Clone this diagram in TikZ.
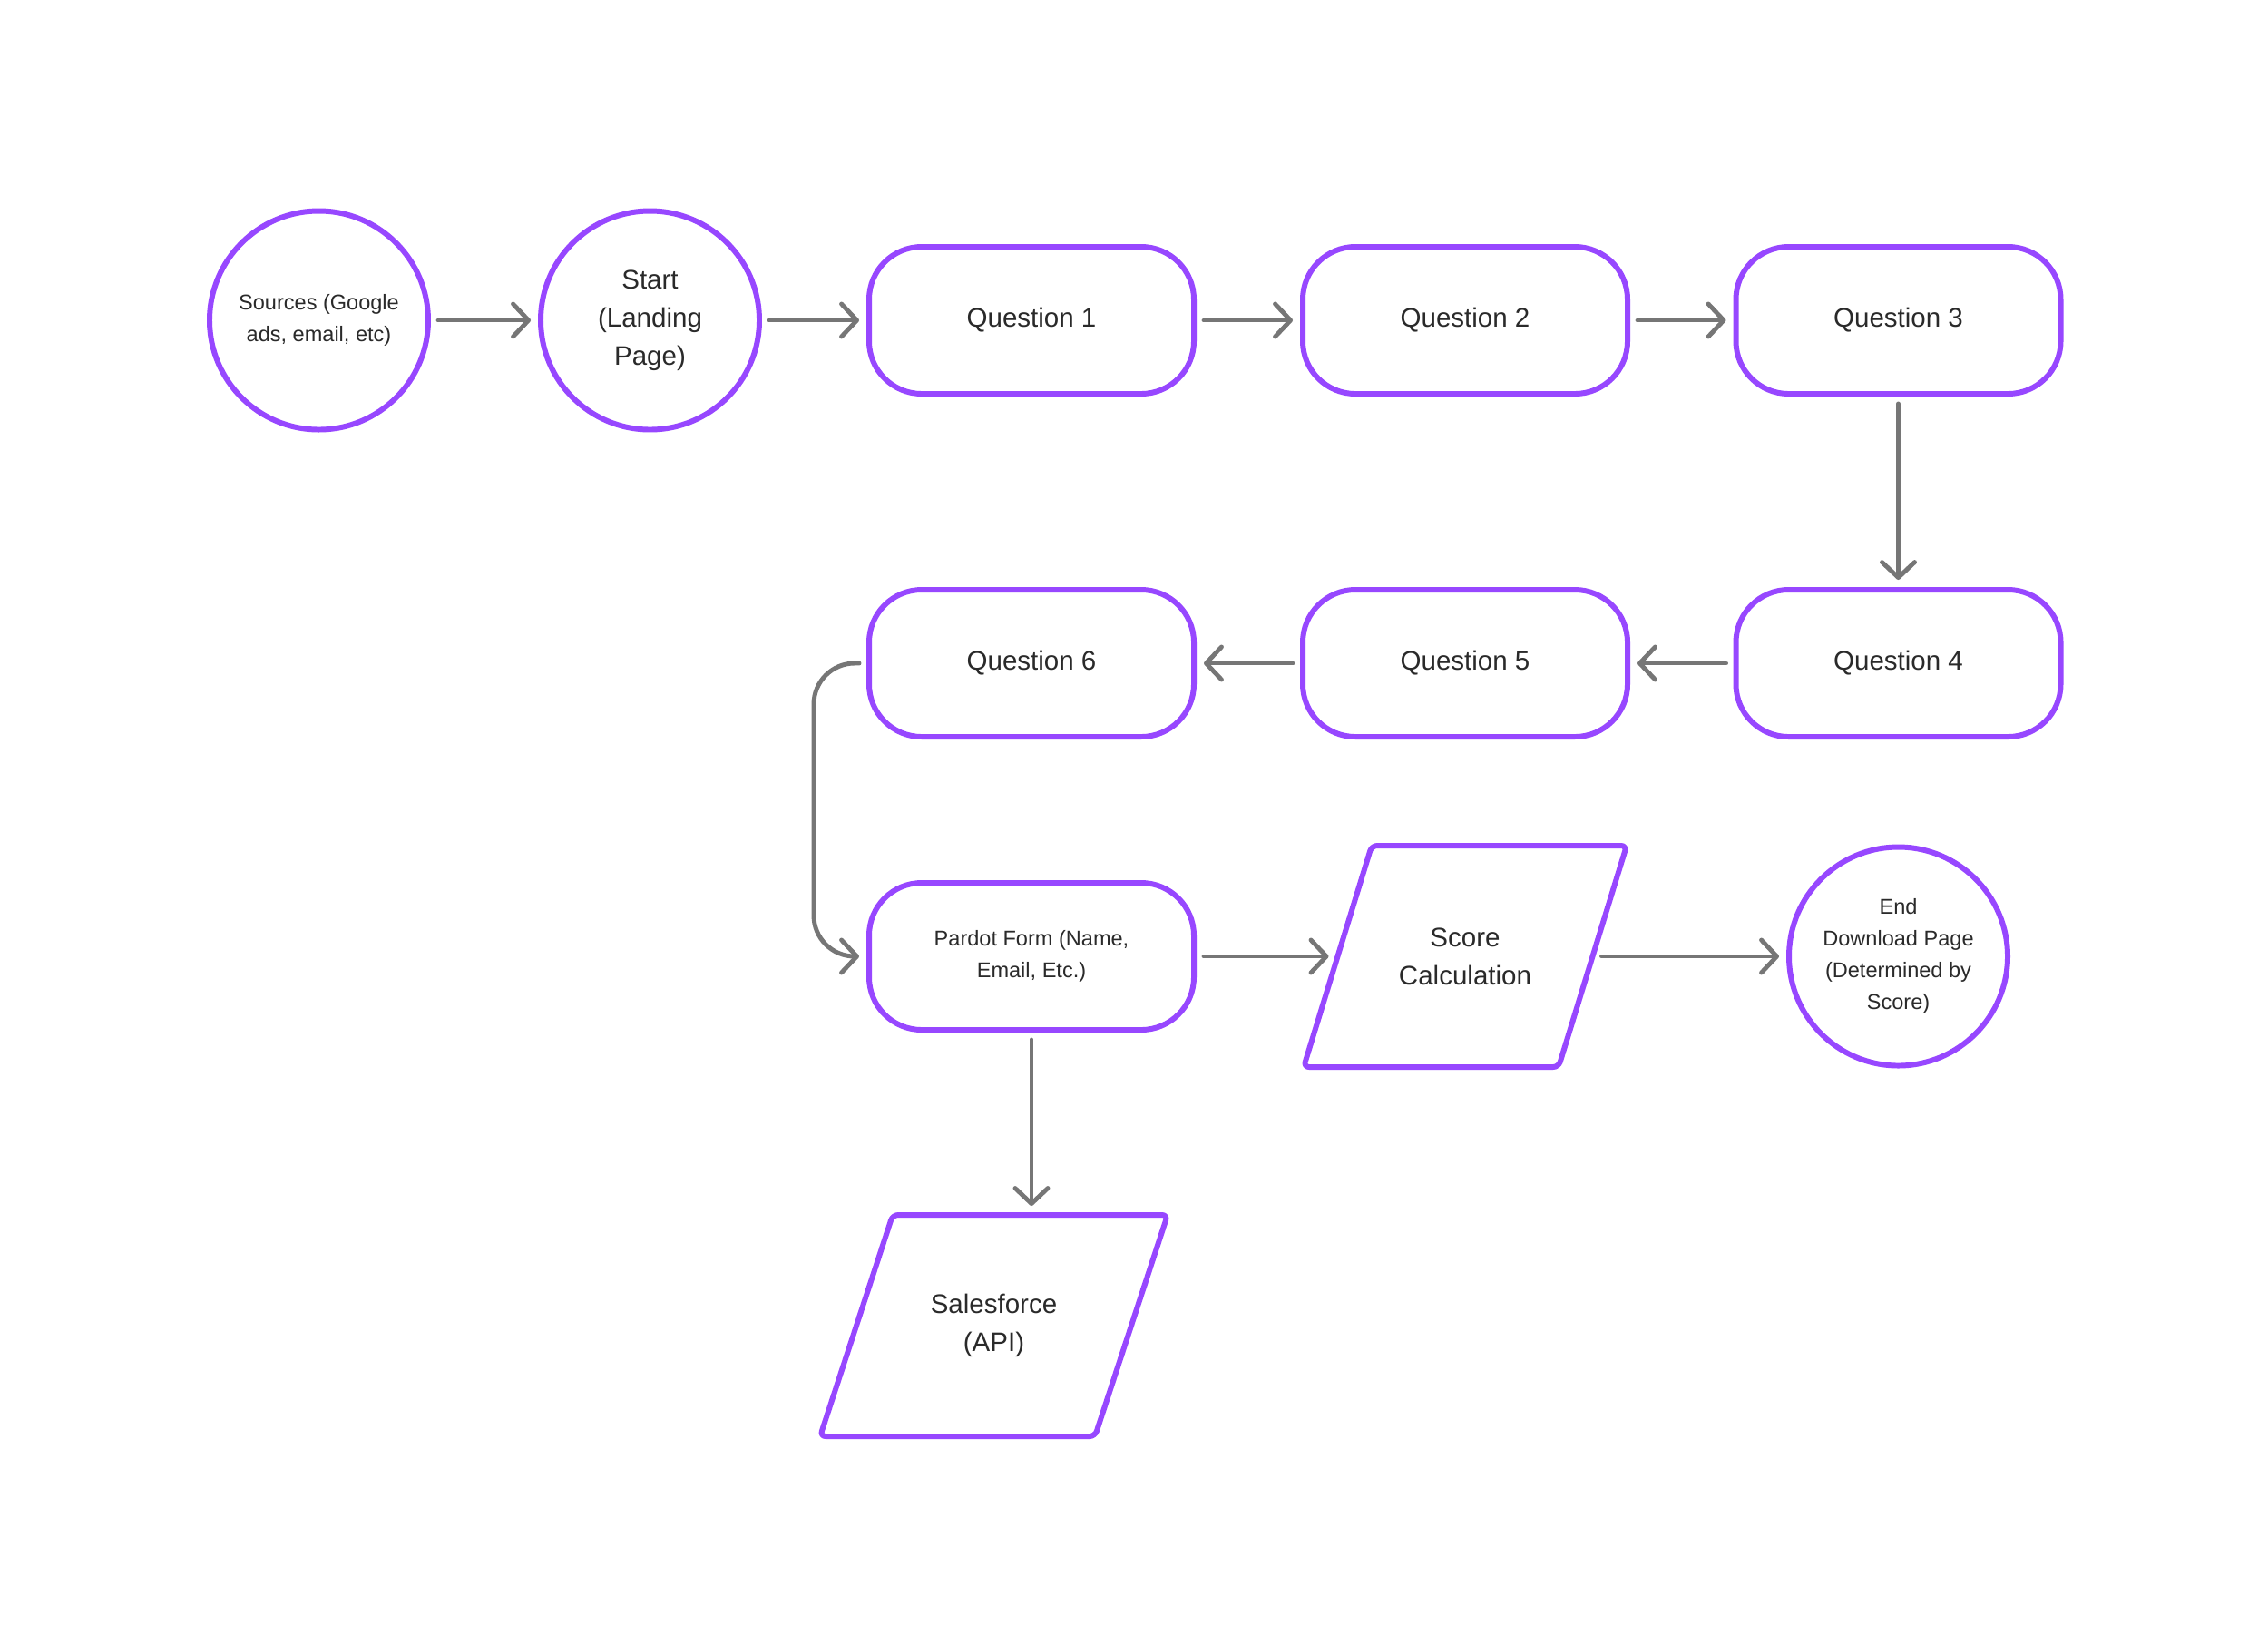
\documentclass[tikz,border=0pt]{standalone}
\usepackage{fontspec}
\setmainfont{Liberation Sans}
\usetikzlibrary{arrows.meta, calc}
\definecolor{violeta}{HTML}{9747FF}
\definecolor{gris}{HTML}{767676}
\definecolor{tinta}{HTML}{2A2A2A}
\tikzset{
  grande/.style={font=\fontsize{8.4}{11.9}\selectfont},
  chica/.style={font=\fontsize{6.7}{9.9}\selectfont},
  borde/.style={draw=violeta, line width=1.7pt, line join=round, rounded corners=0.06cm},
  caja/.style={borde, fill=white, text=tinta, align=center, inner sep=0pt},
  paso/.style={caja, rectangle, rounded corners=0.58cm, minimum width=3.58cm, minimum height=1.62cm},
  ronda/.style={caja, circle, minimum size=2.41cm},
  datos/.style={rectangle, text=tinta, align=center, inner sep=0pt, outer sep=0pt, minimum height=2.44cm},
  flecha/.style={->, draw=gris, line width=1.4pt, line cap=round, line join=round,
    shorten <=0.08cm, shorten >=0.08cm}
}
% marco inclinado alrededor de un nodo "datos" (#2 = medio desplazamiento)
\newcommand{\marcodatos}[2]{%
  \draw[borde] ($(#1.south west)+(-#2,0)$) -- ($(#1.north west)+(#2,0)$)
    -- ($(#1.north east)+(#2,0)$) -- ($(#1.south east)+(-#2,0)$) -- cycle;}
\begin{document}
\begin{tikzpicture}[>={Straight Barb[length=1.7mm, width=3.6mm, line cap=round, line join=round]}]
  \useasboundingbox[fill=white] (0,0) rectangle (25,-18.12);
  % fila superior
  \node[ronda, chica] (src) at (3.515,-3.53) {Sources (Google\\ads, email, etc)};
  \node[ronda, grande] (start) at (7.165,-3.53) {Start\\(Landing\\Page)};
  \node[paso, grande] (q1) at (11.37,-3.53) {Question 1};
  \node[paso, grande] (q2) at (16.15,-3.53) {Question 2};
  \node[paso, grande] (q3) at (20.925,-3.53) {Question 3};
  % fila del medio
  \node[paso, grande] (q4) at (20.925,-7.31) {Question 4};
  \node[paso, grande] (q5) at (16.15,-7.31) {Question 5};
  \node[paso, grande] (q6) at (11.37,-7.31) {Question 6};
  % fila inferior
  \node[paso, chica] (pardot) at (11.37,-10.54) {Pardot Form (Name,\\Email, Etc.)};
  \node[datos, grande, minimum width=2.81cm] (score) at (16.15,-10.54) {Score\\Calculation};
  \marcodatos{score}{0.375}
  \node[ronda, chica] (end) at (20.925,-10.54) {End\\Download Page\\(Determined by\\Score)};
  \node[datos, grande, minimum width=3.03cm] (sales) at (10.955,-14.61) {Salesforce\\(API)};
  \marcodatos{sales}{0.40}
  % conectores
  \draw[flecha] (src) -- (start);
  \draw[flecha] (start) -- (q1);
  \draw[flecha] (q1) -- (q2);
  \draw[flecha] (q2) -- (q3);
  \draw[flecha] (q3) -- (q4);
  \draw[flecha] (q4) -- (q5);
  \draw[flecha] (q5) -- (q6);
  \draw[flecha, rounded corners=0.45cm] (q6.west) -- ++(-0.58,0) |- (pardot.west);
  \draw[flecha, shorten >=0.1cm] (pardot) -- (score);
  \draw[flecha, shorten <=0.1cm] (score) -- (end);
  \draw[flecha, shorten >=0.1cm] (pardot.south) -- (pardot.south |- sales.north);
\end{tikzpicture}
\end{document}
